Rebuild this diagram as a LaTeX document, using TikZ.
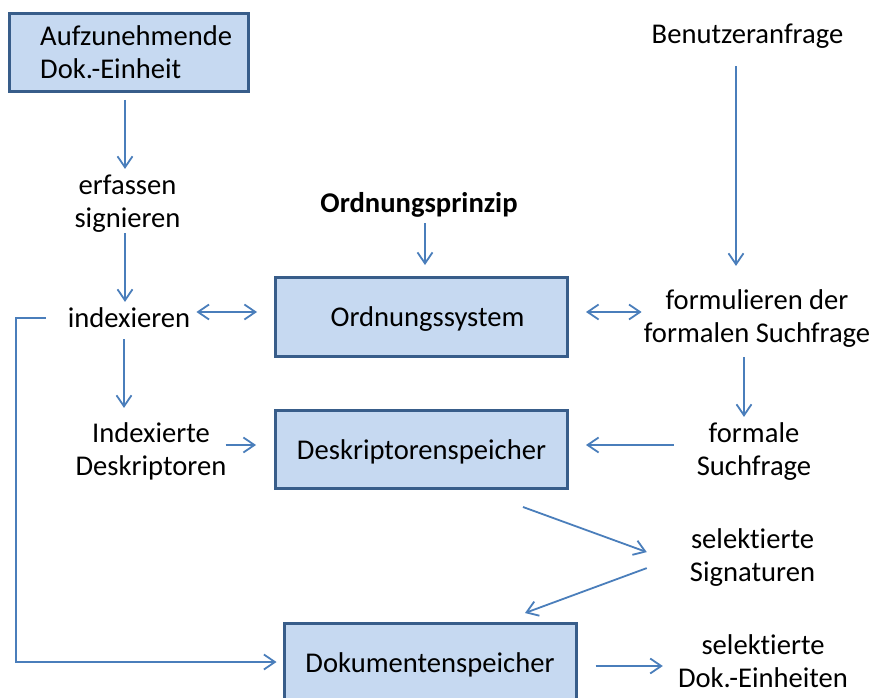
\documentclass[tikz,border=0pt]{standalone}
\usepackage{fontspec}
\setmainfont{Carlito}[Ligatures=NoCommon]
\usetikzlibrary{arrows.meta,calc}
\definecolor{boxfill}{HTML}{C6D9F1}
\definecolor{boxline}{HTML}{385D8A}
\definecolor{link}{HTML}{4A7EBB}
% fixed line heights so that the first baseline sits 23.1pt below a label's top
\newcommand{\topstrut}{\rule{0pt}{23.1pt}}
\newcommand{\botstrut}{\rule[-9.9pt]{0pt}{9.9pt}}
\begin{document}
\begin{tikzpicture}[x=1pt,y=-1pt,
  every node/.style={font=\fontsize{28.6}{33}\selectfont, inner sep=0pt, text=black},
  box/.style={draw=boxline, line width=3pt, fill=boxfill, minimum width=292pt, minimum height=79pt, text height=24pt, text depth=5pt},
  lbl/.style={align=center, anchor=north},
  tip/.tip={Straight Barb[length=11pt,width=15pt]},
  conn/.style={draw=link, line width=1.8pt, -tip},
  both/.style={draw=link, line width=1.8pt, tip-tip}
]
\useasboundingbox (0,0) rectangle (871,698);

% boxes
\node[box, minimum width=239pt, minimum height=78pt] (doc) at (129,52.5) {};
\node[align=left, anchor=north west] (doctext) at (40,21.9) {\topstrut Aufzunehmende\\Dok.-Einheit};
\node[box] (ord) at (421.5,317) {\hspace*{12pt}Ordnungssystem};
\node[box, minimum height=78pt] (desk) at (421.5,449.5) {Deskriptorenspeicher};
\node[box] (dok) at (430,663) {Dokumentenspeicher};

% free-standing labels
\node[lbl] (erf) at (127.5,170.9) {\topstrut erfassen\\signieren\botstrut};
\node[lbl, font=\fontsize{28.6}{33}\selectfont\bfseries] (prinzip) at (419,188.9) {\topstrut Ordnungsprinzip\botstrut};
\node[lbl] (user) at (747.5,19.9) {\topstrut Benutzeranfrage\botstrut};
\node[lbl] (idx) at (129,303.9) {\topstrut indexieren\botstrut};
\node[lbl] (formul) at (757,285.9) {\topstrut formulieren der\\formalen Suchfrage\botstrut};
\node[lbl] (ind) at (151,418.9) {\topstrut Indexierte\\Deskriptoren\botstrut};
\node[lbl] (formale) at (754,418.9) {\topstrut formale\\Suchfrage\botstrut};
\node[lbl] (sig) at (752.5,524.9) {\topstrut selektierte\\Signaturen\botstrut};
\node[lbl] (sel) at (763,630.9) {\topstrut selektierte\\Dok.-Einheiten\botstrut};

% helper coordinates for rows and columns
\coordinate (colL) at (125,0);
\coordinate (colI) at (124,0);
\coordinate (colP) at (425,0);
\coordinate (colU) at (736,0);
\coordinate (colF) at (744,0);
\coordinate (rowO) at (0,312);
\coordinate (rowD) at (0,445);
\coordinate (rowK) at (0,666);
\coordinate (rowI) at (0,318);
\coordinate (rowE) at (0,662);
\coordinate (loopx) at (16,0);

% connectors
\draw[conn, shorten <=7pt, shorten >=2pt] (doc.south -| colL) -- (erf.north -| colL);
\draw[conn, shorten <=-4pt, shorten >=2pt] (erf.south -| colL) -- (idx.north -| colL);
\draw[conn, shorten <=2pt, shorten >=11pt] (idx.south -| colI) -- (ind.north -| colI);
\draw[conn, shorten <=1pt, shorten >=11pt] (prinzip.south -| colP) -- (ord.north -| colP);
\draw[conn, shorten <=13pt, shorten >=20pt] (user.south -| colU) -- (formul.north -| colU);
\draw[both, shorten <=6pt, shorten >=17pt] (idx.east |- rowO) -- (ord.west |- rowO);
\draw[both, shorten <=17pt, shorten >=2pt] (ord.east |- rowO) -- (formul.west |- rowO);
\draw[conn, shorten <=5pt, shorten >=2pt] (formul.south -| colF) -- (formale.north -| colF);
\draw[conn, shorten <=-1pt, shorten >=18pt] (ind.east |- rowD) -- (desk.west |- rowD);
\draw[conn, shorten <=23pt, shorten >=17pt] (formale.west |- rowD) -- (desk.east |- rowD);
\draw[conn] ($(desk.south east)+(-46,17)$) -- ($(sig.west)+(-43,-6)$);
\draw[conn] ($(sig.west)+(-43,10)$) -- ($(dok.north)+(95,-9)$);
\draw[conn, shorten <=18pt, shorten >=15pt] (dok.east |- rowK) -- (sel.west |- rowK);
\draw[conn, shorten <=22pt, shorten >=6pt] (idx.west |- rowI) -- (loopx |- rowI) |- (dok.west |- rowE);
\end{tikzpicture}
\end{document}
